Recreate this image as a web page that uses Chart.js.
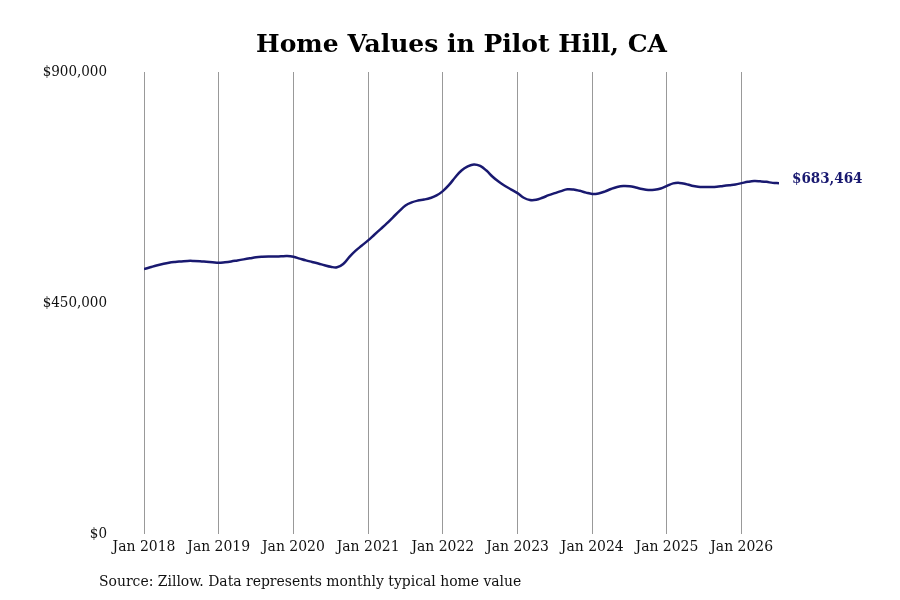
<!DOCTYPE html>
<html>
<head>
<meta charset="utf-8">
<script src="https://cdn.jsdelivr.net/npm/chart.js@4/dist/chart.umd.min.js"></script>
<style>
  html, body { margin: 0; padding: 0; background: #ffffff; }
  #wrap { width: 900px; height: 600px; position: relative; }
</style>
</head>
<body>
<div id="wrap"><canvas id="c" width="900" height="600"></canvas></div>
<script>
// Monthly typical home value, Jan 2018 .. Jul 2026 (month index 0..102)
const startYear = 2018;
const values = [
  516000, 519500, 523000, 526000, 528500, 530000, 531000, 532000, 532000, 531500, 530500, 529500,
  528500, 529500, 531000, 533000, 535000, 537000, 539000, 540000, 540500, 540500, 541000, 541500,
  540000, 536500, 533000, 530000, 527000, 523500, 520500, 519500, 526000, 540000, 552000, 562000,
  572000, 583000, 594000, 605000, 617000, 629000, 640000, 646000, 649500, 651500, 654500, 659500,
  668000, 680000, 695000, 708000, 716000, 720000, 717000, 708000, 696000, 686000, 678000, 671000,
  664000, 655000, 650500, 651000, 655000, 660000, 664000, 668000, 671500, 671000, 668500, 665000,
  662500, 663500, 667000, 672000, 676000, 678000, 677500, 675000, 672000, 670000, 670500, 673000,
  678000, 683000, 684000, 682000, 678500, 676500, 676000, 676000, 676500, 678000, 679500, 681000,
  683500, 686000, 687500, 687000, 686000, 684000, 683464
];
const yTicks = [0, 450000, 900000];
const xTickMonths = [0, 12, 24, 36, 48, 60, 72, 84, 96];
const endLabel = "$683,464";
const titleText = "Home Values in Pilot Hill, CA";
const sourceText = "Source: Zillow. Data represents monthly typical home value";

const points = values.map((v, i) => ({ x: i, y: v }));
const navy = '#191970';
const condFamily = "'DejaVu Serif Condensed', 'DejaVu Serif', serif";

const extras = {
  id: 'extras',
  afterDatasetsDraw(chart) {
    const ctx = chart.ctx;
    const meta = chart.getDatasetMeta(0);
    const last = meta.data[meta.data.length - 1];
    ctx.save();
    // end value label
    ctx.fillStyle = navy;
    ctx.font = "bold 15px " + condFamily;
    ctx.textAlign = 'left';
    ctx.textBaseline = 'middle';
    ctx.fillText(endLabel, last.x + 13, last.y - 4);
    // title
    ctx.fillStyle = '#000000';
    ctx.font = "bold 25px 'DejaVu Serif', serif";
    ctx.textAlign = 'center';
    ctx.textBaseline = 'alphabetic';
    ctx.fillText(titleText, 461.5, 52);
    // source note
    ctx.fillStyle = '#111111';
    ctx.font = "15.5px " + condFamily;
    ctx.textAlign = 'left';
    ctx.textBaseline = 'middle';
    ctx.fillText(sourceText, 99, 582);
    ctx.restore();
  }
};

new Chart(document.getElementById('c'), {
  type: 'line',
  data: {
    datasets: [{
      data: points,
      borderColor: navy,
      borderWidth: 2.5,
      pointRadius: 0,
      tension: 0.4,
      fill: false
    }]
  },
  options: {
    responsive: false,
    animation: false,
    layout: { padding: { left: 0, right: 121, top: 72, bottom: 30 } },
    plugins: {
      legend: { display: false },
      tooltip: { enabled: false },
      title: { display: false }
    },
    scales: {
      x: {
        type: 'linear',
        min: 0,
        max: values.length - 1,
        afterBuildTicks: (s) => { s.ticks = xTickMonths.map(v => ({ value: v })); },
        afterFit: (s) => { s.height = 36; },
        grid: { display: true, color: '#999999', lineWidth: 1, drawTicks: false },
        border: { display: false },
        ticks: {
          padding: 4,
          color: '#111111',
          maxRotation: 0,
          autoSkip: false,
          font: { family: condFamily, size: 15.5 },
          callback: (v) => 'Jan ' + (startYear + Math.round(v / 12))
        }
      },
      y: {
        min: 0,
        max: 900000,
        afterBuildTicks: (s) => { s.ticks = yTicks.map(v => ({ value: v })); },
        afterFit: (s) => { s.width = 144; },
        grid: { display: false, drawTicks: false },
        border: { display: false },
        ticks: {
          padding: 37,
          color: '#111111',
          font: { family: condFamily, size: 15 },
          callback: (v) => '$' + v.toLocaleString('en-US')
        }
      }
    }
  },
  plugins: [extras]
});
</script>
</body>
</html>
